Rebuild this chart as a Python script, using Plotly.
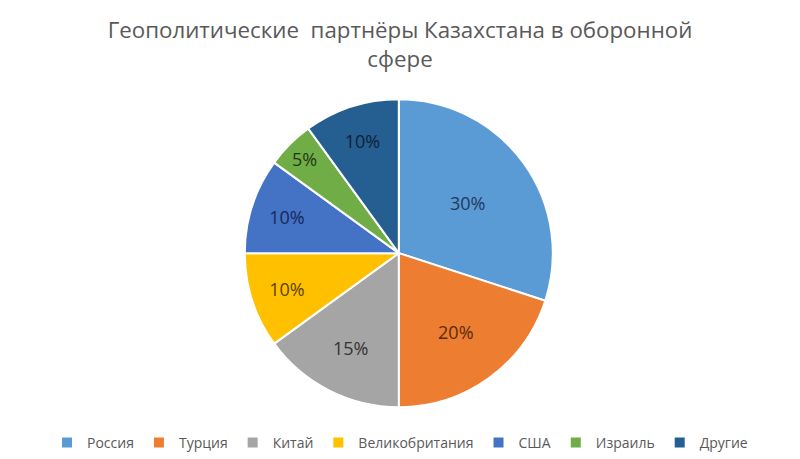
import plotly.graph_objects as go

labels = ["Россия", "Турция", "Китай", "Великобритания", "США", "Израиль", "Другие"]
values = [30, 20, 15, 10, 10, 5, 10]
colors = ["#5B9BD5", "#ED7D31", "#A5A5A5", "#FFC000", "#4472C4", "#70AD47", "#255E91"]
text_colors = ["#1F3A5F", "#5A2A0A", "#333333", "#5A4200", "#16285A", "#1F3A12", "#0E2238"]
texts = [f"{v}%" for v in values]

fig = go.Figure(go.Pie(
    labels=labels,
    values=values,
    text=texts,
    textinfo="text",
    textposition="inside",
    insidetextorientation="horizontal",
    sort=False,
    direction="clockwise",
    rotation=0,
    marker=dict(colors=colors, line=dict(color="white", width=2)),
    textfont=dict(size=18, color=text_colors, family="Open Sans"),
    domain=dict(x=[0.306, 0.691], y=[0.111, 0.786]),
    hoverinfo="label+percent",
))

fig.update_layout(
    width=800, height=459,
    margin=dict(l=0, r=0, t=0, b=0),
    paper_bgcolor="white",
    plot_bgcolor="white",
    title=dict(
        text="Геополитические  партнёры Казахстана в оборонной<br>сфере",
        x=0.5, xanchor="center",
        y=0.918, yanchor="middle",
        font=dict(size=22.3, color="#595959", family="Open Sans"),
    ),
    legend=dict(
        orientation="h",
        x=0.5, xanchor="center",
        y=0.035, yanchor="middle",
        font=dict(size=14, color="#595959", family="Open Sans"),
        itemwidth=30,
        traceorder="normal",
    ),
    showlegend=True,
)

fig.write_html("out.html")
